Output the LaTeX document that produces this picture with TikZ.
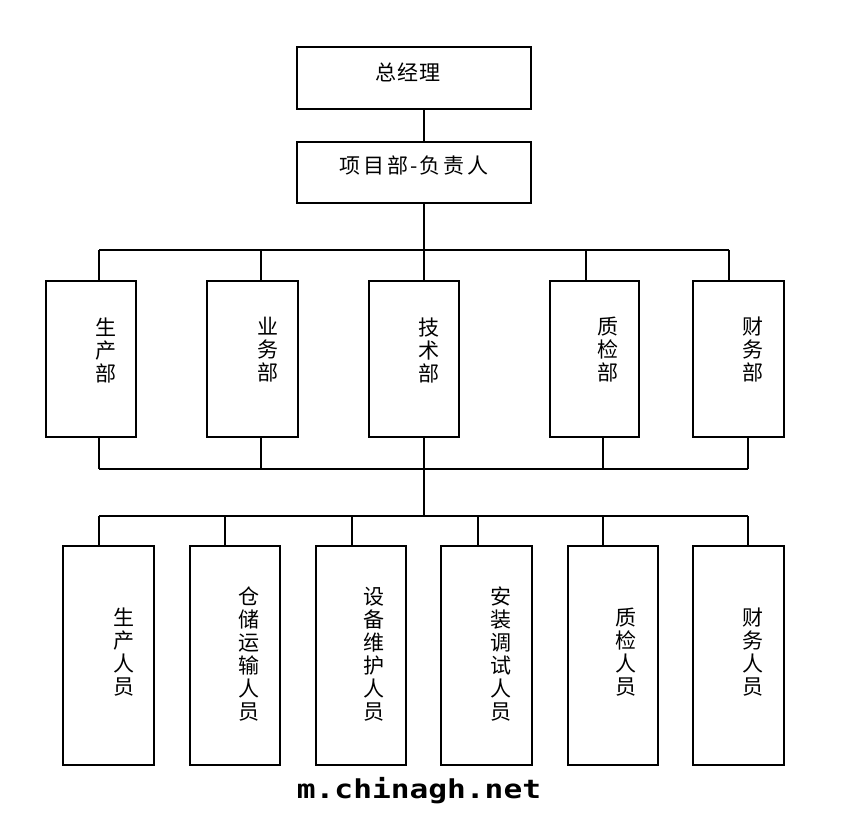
\documentclass[tikz,border=0pt]{standalone}
\usepackage{fontspec}
\newfontfamily\cjk{Noto Sans CJK SC}
\newfontfamily\wmfont{DejaVu Sans Mono}
\begin{document}
\begin{tikzpicture}[x=1pt,y=-1pt,
  box/.style={draw, line width=2pt, inner sep=0pt},
  wire/.style={line width=1.8pt},
  cjktext/.style={font=\cjk\fontsize{21}{23}\selectfont, align=center, inner sep=0pt},
  wmtext/.style={font=\wmfont\bfseries\fontsize{26}{28}\selectfont, inner sep=0pt, anchor=base}]
\useasboundingbox (0,0) rectangle (844,813);
\fill[white] (0,0) rectangle (844,813);
% top
\node[box, minimum width=234pt, minimum height=62pt] (gm) at (414,78) {};
\node[cjktext] (gmt) at (408,72) {总\kern1pt 经\kern1pt 理};
\node[box, minimum width=234pt, minimum height=61pt] (pm) at (414,172.5) {};
\node[cjktext] (pmt) at (414,166) {项\kern3pt 目\kern3pt 部\kern2pt-\kern2pt 负\kern3pt 责\kern3pt 人};
% departments
\foreach \n/\x/\w/\tx/\t in {d1/91/90/106/{生\\产\\部}, d2/252.5/91/268/{业\\务\\部}, d3/414/90/429/{技\\术\\部}, d4/594.5/89/608/{质\\检\\部}, d5/738.5/91/753/{财\\务\\部}}{
  \node[box, minimum width=\w pt, minimum height=156pt] (\n) at (\x,359) {};
  \node[cjktext] (\n t) at (\tx,350) {\t};
}
% staff
\foreach \n/\x/\w/\tx/\ty/\t in {p1/108.5/91/124/652/{生\\产\\人\\员}, p2/235/90/249/654/{仓\\储\\运\\输\\人\\员}, p3/361/90/374/654/{设\\备\\维\\护\\人\\员}, p4/486.5/91/501/654/{安\\装\\调\\试\\人\\员}, p5/613/90/626/652/{质\\检\\人\\员}, p6/738.5/91/753/652/{财\\务\\人\\员}}{
  \node[box, minimum width=\w pt, minimum height=219pt] (\n) at (\x,655.5) {};
  \node[cjktext] (\n t) at (\tx,\ty) {\t};
}
% bus coordinates
\coordinate (trunk) at (424,0);
\coordinate (b1w) at (99,250);
\coordinate (b1e) at (729,250);
\coordinate (b1c) at (424,250);
\coordinate (b2w) at (99,469);
\coordinate (b2e) at (748,469);
\coordinate (b2c) at (424,469);
\coordinate (b3w) at (99,516);
\coordinate (b3e) at (748,516);
\coordinate (b3c) at (424,516);
% connectors
\draw[wire] (gm.south -| trunk) -- (pm.north -| trunk);
\draw[wire] (pm.south -| trunk) -- (b1c);
\draw[wire] (b1w) -- (b1e);
\foreach \n/\x in {d1/99, d2/261, d3/424, d4/586, d5/729}{
  \draw[wire] (\x,250) -- (\n.north -| {(\x,0)});
}
\foreach \n/\x in {d1/99, d2/261, d3/424, d4/603, d5/748}{
  \draw[wire] (\n.south -| {(\x,0)}) -- (\x,469);
}
\draw[wire] (b2w) -- (b2e);
\draw[wire] (b2c) -- (b3c);
\draw[wire] (b3w) -- (b3e);
\foreach \n/\x in {p1/99, p2/225, p3/352, p4/478, p5/603, p6/748}{
  \draw[wire] (\x,516) -- (\n.north -| {(\x,0)});
}
% watermark
\node[wmtext] (wm) at (419,798) {\scalebox{1.2}[1]{m.chinagh.net}};
\end{tikzpicture}
\end{document}
